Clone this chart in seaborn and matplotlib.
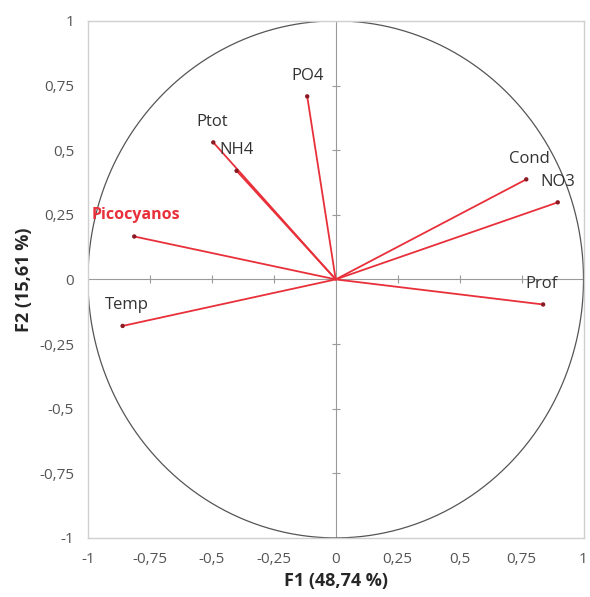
import numpy as np
import pandas as pd
import seaborn as sns
import matplotlib.pyplot as plt

# variable coordinates on F1 / F2
variables = ['PO4', 'Ptot', 'NH4', 'Picocyanos', 'Cond', 'NO3', 'Prof', 'Temp']
f1 = [-0.115, -0.494, -0.40, -0.813, 0.769, 0.896, 0.837, -0.86]
f2 = [0.708, 0.530, 0.42, 0.166, 0.387, 0.298, -0.097, -0.18]
ticks = [-1, -0.75, -0.5, -0.25, 0, 0.25, 0.5, 0.75, 1]
tick_labels = ['-1', '-0,75', '-0,5', '-0,25', '0', '0,25', '0,5', '0,75', '1']

df = pd.DataFrame({'var': variables, 'F1': f1, 'F2': f2})

sns.set_style('white')
plt.rcParams['font.family'] = ['Open Sans', 'DejaVu Sans']

fig = plt.figure(figsize=(5.9, 5.97), dpi=100)
ax = fig.add_axes([0.149, 0.099, 0.84, 0.866])

# correlation circle
t = np.linspace(0, 2 * np.pi, 400)
ax.plot(np.cos(t), np.sin(t), color='#555555', lw=0.9, zorder=1)

# zero axes with small ticks
ax.axhline(0, color='#9a9a9a', lw=0.8, zorder=0)
ax.axvline(0, color='#9a9a9a', lw=0.8, zorder=0)
inner = [v for v in ticks if v not in (-1, 0, 1)]
ax.scatter(inner, [0] * len(inner), marker='|', s=40, color='#9a9a9a', lw=0.8, zorder=0)
ax.scatter([0] * len(inner), inner, marker='_', s=40, color='#9a9a9a', lw=0.8, zorder=0)

# arrows from origin
for _, r in df.iterrows():
    ax.plot([0, r['F1']], [0, r['F2']], color='#e8303a', lw=1.3, zorder=2)
sns.scatterplot(data=df, x='F1', y='F2', color='#8b1a22', s=10, edgecolor='none',
                ax=ax, zorder=3, legend=False)

# labels, placed above-left of each point
for _, r in df.iterrows():
    if r['var'] == 'PO4':
        ax.text(r['F1'], r['F2'] + 0.08, r['var'], color='#333333', fontsize=12,
                ha='center', va='center')
    elif r['var'] == 'Picocyanos':
        ax.text(r['F1'] - 0.17, r['F2'] + 0.082, r['var'], color='#e8303a', fontsize=11.5,
                fontweight='bold', ha='left', va='center')
    else:
        ax.text(r['F1'] - 0.07, r['F2'] + 0.08, r['var'], color='#333333', fontsize=12,
                ha='left', va='center')

ax.set_xlim(-1, 1)
ax.set_ylim(-1, 1)
ax.set_xticks(ticks)
ax.set_xticklabels(tick_labels)
ax.set_yticks(ticks)
ax.set_yticklabels(tick_labels)
ax.tick_params(axis='both', length=0, labelsize=11, labelcolor='#555555', pad=10)
for s in ax.spines.values():
    s.set_color('#cfcfcf')
    s.set_linewidth(1)

ax.set_xlabel('F1 (48,74 %)', fontsize=13, fontweight='bold', labelpad=4)
ax.set_ylabel('F2 (15,61 %)', fontsize=13, fontweight='bold', labelpad=4)

plt.savefig('out.png', dpi=100)
